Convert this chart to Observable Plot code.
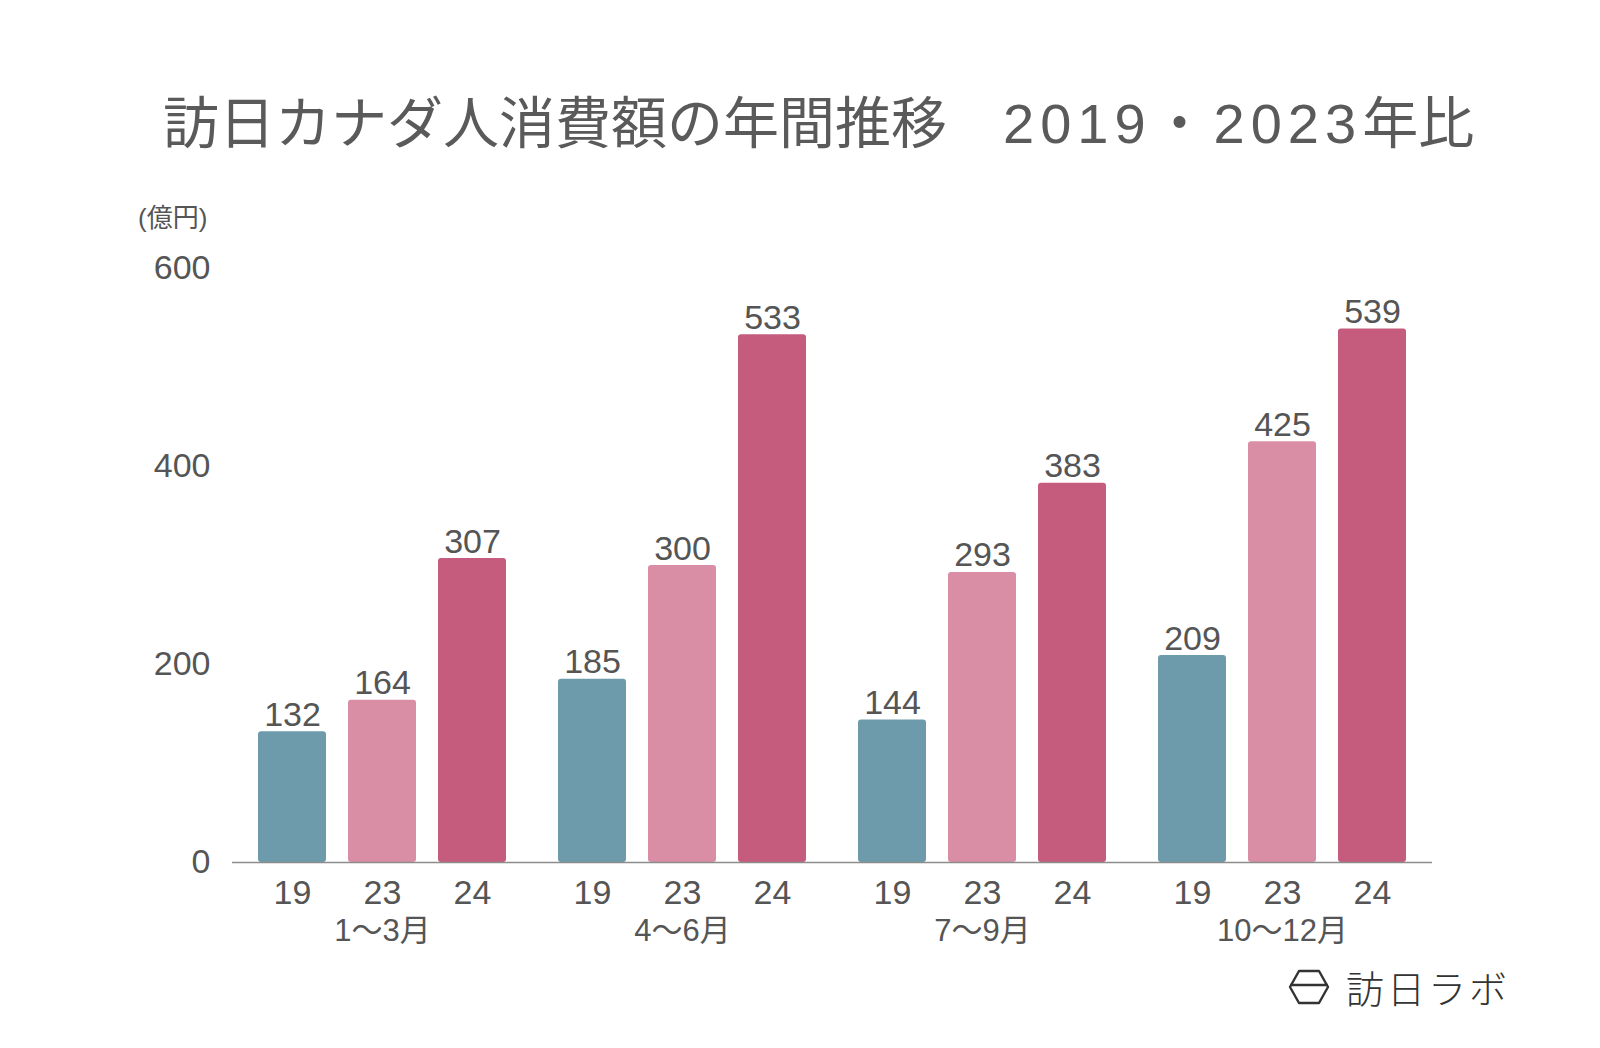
<!DOCTYPE html>
<html>
<head>
<meta charset="utf-8">
<script src="https://cdn.jsdelivr.net/npm/d3@7"></script>
<script src="https://cdn.jsdelivr.net/npm/@observablehq/plot@0.6"></script>
<style>
  html, body { margin: 0; padding: 0; background: #ffffff; }
  #page { position: relative; width: 1600px; height: 1048px; background: #ffffff; overflow: hidden;
          font-family: "Liberation Sans", "Noto Sans CJK JP", sans-serif; color: #595959; }
  #title { position: absolute; left: 163px; top: 96px; font-size: 56px; line-height: 1; white-space: nowrap; color: #5a5a5a; }
  #title .num { letter-spacing: 6px; }
  #unit { position: absolute; left: 138px; top: 205px; font-size: 26px; line-height: 1; color: #555; }
  #chart { position: absolute; left: 0; top: 0; }
  #logo { position: absolute; left: 1288px; top: 968px; display: flex; align-items: center; gap: 16px; }
  #logo span { font-family: "Noto Sans CJK JP", sans-serif; font-weight: 300; font-size: 38px; letter-spacing: 3px; color: #333; line-height: 1; }
</style>
</head>
<body>
<div id="page">
  <div id="chart"></div>
  <div id="title">訪日カナダ人消費額の年間推移　<span class="num">2019・2023</span>年比</div>
  <div id="unit">(億円)</div>
  <div id="logo">
    <svg width="42" height="36" viewBox="0 0 42 36">
      <path d="M11,2 L31,2 L40,18 L31,34 L11,34 L2,18 Z M2,16 L40,16" fill="none" stroke="#333" stroke-width="2.4" stroke-linejoin="round"/>
    </svg>
    <span>訪日ラボ</span>
  </div>
</div>
<script>
const quarters = ["1〜3月", "4〜6月", "7〜9月", "10〜12月"];
const years = ["19", "23", "24"];
const values19 = [132, 185, 144, 209];
const values23 = [164, 300, 293, 425];
const values24 = [307, 533, 383, 539];
const yTicks = [0, 200, 400, 600];
const barColors = ["#6d9bab", "#d98ea6", "#c55c7e"];

const seriesByYear = {"19": values19, "23": values23, "24": values24};
const data = [];
quarters.forEach((q, i) => {
  years.forEach(y => data.push({quarter: q, year: y, value: seriesByYear[y][i]}));
});

const chart = Plot.plot({
  width: 1600,
  height: 960,
  marginTop: 268,
  marginBottom: 98,
  marginLeft: 232,
  marginRight: 168,
  style: {fontFamily: '"Liberation Sans", "Noto Sans CJK JP", sans-serif', color: "#555555", background: "transparent", overflow: "visible"},
  fx: {domain: quarters, padding: 0, label: null},
  x: {domain: years, paddingInner: 0.24, paddingOuter: 0.27, label: null},
  y: {domain: [0, 600], label: null},
  color: {domain: years, range: barColors},
  marks: [
    Plot.barY(data, {fx: "quarter", x: "year", y: "value", fill: "year", rx: 3}),
    Plot.ruleY([0], {stroke: "#8c8c8c", strokeWidth: 1.5}),
    Plot.text(data, {fx: "quarter", x: "year", y: "value", text: d => String(d.value), lineAnchor: "bottom", dy: -6, fontSize: 34, fill: "#555555"}),
    Plot.axisY(yTicks, {tickSize: 0, tickPadding: 22, fontSize: 34, label: null}),
    Plot.axisX({tickSize: 0, tickPadding: 17, fontSize: 34, label: null}),
    Plot.axisFx({anchor: "bottom", tickSize: 0, tickPadding: 56, fontSize: 31, label: null})
  ]
});
document.getElementById("chart").appendChild(chart);
</script>
</body>
</html>
